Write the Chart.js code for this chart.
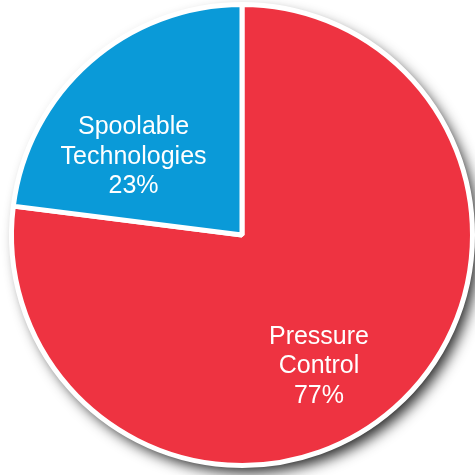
<!DOCTYPE html>
<html>
<head>
<meta charset="utf-8">
<script src="https://cdn.jsdelivr.net/npm/chart.js@4.4.0/dist/chart.umd.min.js"></script>
<style>
html,body{margin:0;padding:0;background:#fff;}
#wrap{width:475px;height:475px;position:relative;}
</style>
</head>
<body>
<div id="wrap"><canvas id="c" width="475" height="475"></canvas></div>
<script>
const categories = ["Pressure\nControl", "Spoolable\nTechnologies"];
const shares = [77, 23];
const sliceColors = ["#EE3341", "#0A9AD8"];
// label placement: fraction of radius, angle shift (degrees) from slice mid-angle
const labelRadial = [0.66, 0.58];
const labelAngleShift = [11, -12.8];

const shadowPlugin = {
  id: 'pieShadow',
  beforeDatasetsDraw(chart) {
    const arc = chart.getDatasetMeta(0).data[0];
    if (!arc) return;
    const ctx = chart.ctx;
    ctx.save();
    ctx.shadowColor = 'rgba(0,0,0,0.85)';
    ctx.shadowBlur = 14;
    ctx.shadowOffsetX = 6;
    ctx.shadowOffsetY = 7;
    ctx.fillStyle = '#ffffff';
    ctx.beginPath();
    ctx.arc(arc.x, arc.y, arc.outerRadius, 0, Math.PI * 2);
    ctx.fill();
    ctx.restore();
  }
};

const labelPlugin = {
  id: 'sliceLabels',
  afterDatasetsDraw(chart) {
    const meta = chart.getDatasetMeta(0);
    const ctx = chart.ctx;
    ctx.save();
    ctx.fillStyle = '#ffffff';
    ctx.font = '25px "Liberation Sans", Arial, sans-serif';
    ctx.textAlign = 'center';
    ctx.textBaseline = 'middle';
    meta.data.forEach((arc, i) => {
      const mid = (arc.startAngle + arc.endAngle) / 2 + labelAngleShift[i] * Math.PI / 180;
      const r = arc.outerRadius * labelRadial[i];
      const cx = arc.x + Math.cos(mid) * r;
      const cy = arc.y + Math.sin(mid) * r;
      const lines = categories[i].split("\n").concat([shares[i] + "%"]);
      const lh = 29.5;
      lines.forEach((t, k) => {
        ctx.fillText(t, cx, cy + (k - (lines.length - 1) / 2) * lh);
      });
    });
    ctx.restore();
  }
};

new Chart(document.getElementById('c'), {
  type: 'pie',
  data: {
    labels: categories.map(s => s.replace("\n", " ")),
    datasets: [{
      data: shares,
      backgroundColor: sliceColors,
      borderColor: '#ffffff',
      borderWidth: 5
    }]
  },
  options: {
    responsive: false,
    animation: false,
    devicePixelRatio: 1,
    layout: { padding: { left: 9, right: 0, top: 2, bottom: 7 } },
    plugins: {
      legend: { display: false },
      tooltip: { enabled: false }
    }
  },
  plugins: [shadowPlugin, labelPlugin]
});
</script>
</body>
</html>
